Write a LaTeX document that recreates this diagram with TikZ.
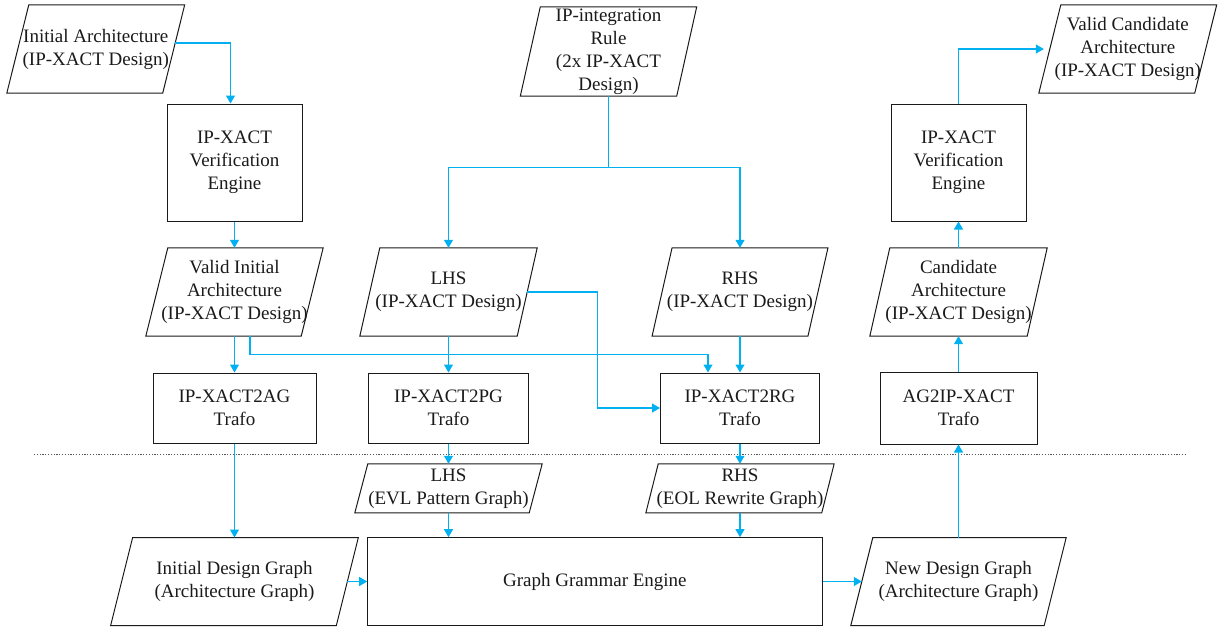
\documentclass[tikz,border=0pt]{standalone}
\usepackage{fontspec}
\setmainfont{Liberation Serif}
\usetikzlibrary{arrows.meta,calc}
\definecolor{flow}{HTML}{00B0F0}
\definecolor{edgeblack}{HTML}{1A1A1A}
\definecolor{sepgray}{HTML}{555555}
\begin{document}
\begin{tikzpicture}[x=1pt,y=-1pt,
  every node/.style={font=\fontsize{19}{23}\selectfont, text=edgeblack, align=center, inner sep=0pt},
  procbox/.style={draw=edgeblack, line width=1pt},
  datanode/.style={},
  outline/.style={draw=edgeblack, line width=1pt, line join=miter},
  flowarrow/.style={draw=flow, line width=1.1pt, -{Triangle[width=9pt,length=8pt]}},
  separator/.style={draw=sepgray, line width=1pt, dash pattern=on 1.2pt off 1.6pt}]
\useasboundingbox (0,0) rectangle (1222,627);

% upper level: IP-XACT designs and transformations
\node[datanode, minimum width=155.5pt, minimum height=88pt] (init) at (95.75,49)
  {Initial Architecture\\(IP-XACT Design)};
\node[procbox, minimum width=135pt, minimum height=117pt] (ve1) at (234.5,162.5)
  {IP-XACT\\Verification\\Engine};
\node[datanode, minimum width=156pt, minimum height=89pt] (rule) at (608.5,51.5)
  {IP-integration\\Rule\\(2x IP-XACT\\Design)};
\node[datanode, minimum width=155.5pt, minimum height=88pt] (vcand) at (1127.75,49)
  {Valid Candidate\\Architecture\\(IP-XACT Design)};
\node[procbox, minimum width=135pt, minimum height=117pt] (ve2) at (958.5,162.5)
  {IP-XACT\\Verification\\Engine};

\node[datanode, minimum width=155pt, minimum height=88pt] (valid) at (234.5,292)
  {Valid Initial\\Architecture\\(IP-XACT Design)};
\node[datanode, minimum width=157pt, minimum height=88pt] (lhs) at (448.5,292)
  {LHS\\(IP-XACT Design)};
\node[datanode, minimum width=155.5pt, minimum height=88pt] (rhs) at (740,292)
  {RHS\\(IP-XACT Design)};
\node[datanode, minimum width=157pt, minimum height=88pt] (cand) at (958.5,292)
  {Candidate\\Architecture\\(IP-XACT Design)};

\node[procbox, minimum width=163pt, minimum height=70pt] (ag) at (234.5,408)
  {IP-XACT2AG\\Trafo};
\node[procbox, minimum width=160pt, minimum height=70pt] (pg) at (448.5,408)
  {IP-XACT2PG\\Trafo};
\node[procbox, minimum width=159pt, minimum height=70pt] (rg) at (740,408)
  {IP-XACT2RG\\Trafo};
\node[procbox, minimum width=157pt, minimum height=72pt] (ag2ip) at (958.5,408)
  {AG2IP-XACT\\Trafo};

% lower level: graph grammar
\node[datanode, minimum width=174pt, minimum height=48.7pt] (evl) at (448.5,488.3)
  {LHS\\(EVL Pattern Graph)};
\node[datanode, minimum width=175.5pt, minimum height=48.7pt] (eol) at (740,488.3)
  {RHS\\(EOL Rewrite Graph)};
\node[datanode, minimum width=225.3pt, minimum height=87.6pt] (idg) at (234.5,581.5)
  {Initial Design Graph\\(Architecture Graph)};
\node[procbox, minimum width=454.3pt, minimum height=87.6pt] (gge) at (594.85,581.5)
  {Graph Grammar Engine};
\node[datanode, minimum width=193pt, minimum height=87.6pt] (ndg) at (958.5,581.5)
  {New Design Graph\\(Architecture Graph)};

% parallelogram outlines of the data nodes (half slant in pt)
\foreach \n/\s in {init/11, rule/10, vcand/11, valid/11, lhs/10, rhs/10, cand/10,
                   evl/6.5, eol/6.2, idg/11, ndg/11}
  \draw[outline] ([xshift=\s pt]\n.north west) -- ([xshift=\s pt]\n.north east)
    -- ([xshift=-\s pt]\n.south east) -- ([xshift=-\s pt]\n.south west) -- cycle;

% level separator
\coordinate (sepL) at (34,454);
\coordinate (sepR) at (1185,454);
\draw[separator] (sepL) -- (sepR);

% connectors
\draw[flowarrow] ($(init.east)+(1.5,-6)$) -| ($(ve1.north)+(-4,0)$);
\draw[flowarrow] (ve1.south) -- (valid.north);
\draw[flowarrow] (valid.south) -- (ag.north);
\draw[flowarrow] ($(valid.south)+(15.5,0)$) -- ++(0,18) -| ($(rg.north)+(-32,0)$);
\draw[flowarrow] (rule.south) -- ++(0,71) -| (lhs.north);
\draw[flowarrow] (rule.south) -- ++(0,71) -| (rhs.north);
\draw[flowarrow] (lhs.south) -- (pg.north);
\draw[flowarrow] (lhs.east) -- ++(70,0) |- (rg.west);
\draw[flowarrow] (rhs.south) -- (rg.north);
\draw[flowarrow] (ag2ip.north) -- (cand.south);
\draw[flowarrow] (cand.north) -- (ve2.south);
\draw[flowarrow, shorten >=6pt] (ve2.north) |- (vcand.west);
\draw[flowarrow] (ag.south) -- (idg.north);
\draw[flowarrow] (pg.south) -- (evl.north);
\draw[flowarrow] (evl.south) -- (evl.south |- gge.north);
\draw[flowarrow] (rg.south) -- (eol.north);
\draw[flowarrow] (eol.south) -- (eol.south |- gge.north);
\draw[flowarrow] (idg.east) -- (gge.west);
\draw[flowarrow] (gge.east) -- (ndg.west);
\draw[flowarrow] (ndg.north) -- (ag2ip.south);
\end{tikzpicture}
\end{document}
